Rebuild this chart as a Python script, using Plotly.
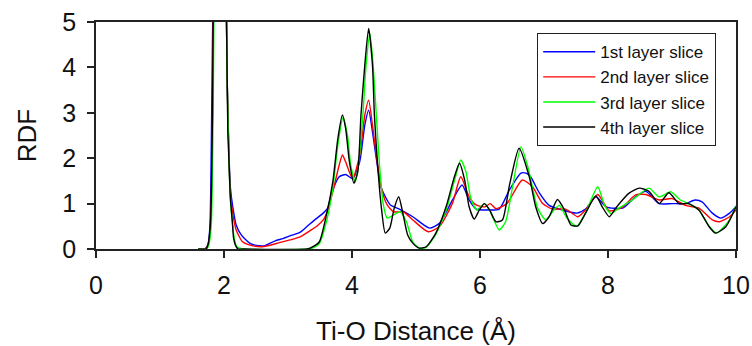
import plotly.graph_objects as go

# ---- data ----
x_blue = [1.6, 1.7, 1.75, 1.78, 1.81, 1.85, 1.93, 2.03, 2.05, 2.08, 2.1, 2.14, 2.19, 2.27, 2.4, 2.55, 2.65, 2.8, 2.92, 3.05, 3.18, 3.3, 3.4, 3.55, 3.62, 3.7, 3.8, 3.9, 4.01, 4.12, 4.2, 4.26, 4.32, 4.38, 4.46, 4.6, 4.74, 4.95, 5.21, 5.37, 5.57, 5.72, 5.83, 5.94, 6.1, 6.3, 6.46, 6.64, 6.72, 6.79, 6.93, 7.08, 7.24, 7.51, 7.65, 7.81, 7.97, 8.23, 8.43, 8.59, 8.8, 9.0, 9.21, 9.36, 9.47, 9.63, 9.76, 9.9, 10.0]
y_blue = [0.0, 0.0, 0.1, 0.5, 3.3, 8.0, 12.0, 6.0, 3.7, 2.0, 1.35, 0.9, 0.53, 0.31, 0.13, 0.07, 0.08, 0.18, 0.23, 0.3, 0.36, 0.5, 0.62, 0.79, 0.9, 1.3, 1.59, 1.64, 1.55, 1.92, 2.73, 3.06, 2.58, 1.99, 1.34, 0.97, 0.88, 0.71, 0.46, 0.57, 1.08, 1.41, 1.08, 0.88, 0.86, 0.88, 1.3, 1.67, 1.67, 1.59, 1.23, 0.96, 0.88, 0.79, 0.88, 1.15, 0.93, 0.9, 1.15, 1.27, 1.0, 1.0, 1.0, 1.08, 1.04, 0.79, 0.68, 0.79, 0.93]

x_red = [1.6, 1.7, 1.75, 1.79, 1.82, 1.85, 1.93, 2.03, 2.05, 2.08, 2.1, 2.14, 2.19, 2.29, 2.45, 2.6, 2.82, 3.03, 3.18, 3.34, 3.45, 3.55, 3.62, 3.7, 3.8, 3.85, 3.9, 4.01, 4.12, 4.2, 4.26, 4.32, 4.38, 4.46, 4.55, 4.65, 4.8, 4.95, 5.19, 5.37, 5.57, 5.7, 5.83, 5.94, 6.08, 6.16, 6.25, 6.42, 6.66, 6.82, 6.98, 7.13, 7.34, 7.53, 7.65, 7.84, 8.02, 8.23, 8.43, 8.59, 8.8, 9.0, 9.21, 9.42, 9.63, 9.74, 9.9, 10.0]
y_red = [0.0, 0.0, 0.08, 0.5, 3.0, 8.0, 12.0, 6.0, 3.7, 1.9, 1.2, 0.75, 0.42, 0.16, 0.07, 0.05, 0.12, 0.2, 0.26, 0.4, 0.5, 0.64, 0.85, 1.26, 1.85, 2.07, 1.92, 1.55, 2.07, 2.95, 3.28, 2.73, 2.07, 1.34, 0.97, 0.82, 0.82, 0.64, 0.38, 0.5, 1.01, 1.59, 1.15, 0.97, 0.93, 1.0, 0.89, 1.0, 1.52, 1.37, 1.0, 0.88, 0.88, 0.71, 0.86, 1.2, 0.84, 0.93, 1.19, 1.2, 1.08, 1.11, 0.96, 0.9, 0.64, 0.6, 0.71, 0.86]

x_green = [1.6, 1.72, 1.76, 1.8, 1.83, 1.86, 1.93, 2.03, 2.05, 2.08, 2.1, 2.13, 2.16, 2.2, 2.3, 3.3, 3.4, 3.49, 3.6, 3.7, 3.78, 3.86, 3.93, 3.98, 4.05, 4.1, 4.17, 4.22, 4.28, 4.33, 4.38, 4.43, 4.49, 4.55, 4.65, 4.75, 4.85, 4.95, 5.05, 5.15, 5.3, 5.47, 5.6, 5.7, 5.78, 5.86, 5.95, 6.07, 6.15, 6.3, 6.4, 6.5, 6.64, 6.75, 6.9, 7.03, 7.15, 7.24, 7.35, 7.51, 7.65, 7.84, 7.95, 8.05, 8.17, 8.38, 8.64, 8.8, 8.98, 9.13, 9.26, 9.42, 9.58, 9.7, 9.9, 10.0]
y_green = [0.0, 0.0, 0.08, 0.5, 2.9, 8.0, 12.0, 6.0, 3.7, 1.85, 1.1, 0.6, 0.24, 0.05, 0.0, 0.0, 0.03, 0.12, 0.6, 1.33, 2.3, 2.9, 2.5, 1.85, 1.48, 1.85, 2.95, 4.05, 4.75, 4.05, 2.95, 1.85, 0.97, 0.68, 0.75, 0.82, 0.6, 0.15, 0.02, 0.03, 0.3, 0.85, 1.5, 1.96, 1.7, 1.1, 0.86, 1.0, 0.85, 0.42, 0.6, 1.3, 2.25, 1.8, 0.9, 0.64, 0.85, 0.96, 0.7, 0.5, 0.8, 1.37, 0.95, 0.78, 0.9, 1.08, 1.34, 1.15, 1.26, 1.08, 1.0, 0.86, 0.5, 0.35, 0.64, 0.96]

x_black = [1.6, 1.72, 1.75, 1.79, 1.82, 1.85, 1.93, 2.03, 2.05, 2.06, 2.08, 2.1, 2.13, 2.15, 2.18, 2.22, 2.3, 3.3, 3.39, 3.49, 3.6, 3.7, 3.78, 3.85, 3.9, 3.96, 4.03, 4.09, 4.14, 4.2, 4.26, 4.32, 4.35, 4.4, 4.46, 4.52, 4.59, 4.66, 4.73, 4.79, 4.87, 4.95, 5.05, 5.16, 5.31, 5.47, 5.6, 5.68, 5.76, 5.83, 5.91, 5.99, 6.07, 6.15, 6.25, 6.35, 6.46, 6.61, 6.77, 6.87, 6.98, 7.08, 7.21, 7.32, 7.42, 7.53, 7.65, 7.81, 7.91, 8.02, 8.12, 8.33, 8.49, 8.64, 8.8, 8.95, 9.11, 9.26, 9.42, 9.58, 9.68, 9.84, 10.0]
y_black = [0.0, 0.0, 0.09, 0.6, 2.95, 8.0, 12.0, 6.0, 3.7, 2.6, 1.85, 1.12, 0.6, 0.24, 0.08, 0.0, 0.0, 0.0, 0.05, 0.16, 0.75, 1.48, 2.44, 2.95, 2.66, 1.92, 1.45, 1.7, 2.95, 4.05, 4.86, 4.05, 2.95, 1.85, 0.9, 0.35, 0.46, 0.9, 1.15, 0.82, 0.31, 0.13, 0.02, 0.05, 0.35, 0.93, 1.59, 1.89, 1.52, 0.93, 0.66, 0.86, 1.0, 0.86, 0.6, 0.64, 1.4, 2.22, 1.59, 0.93, 0.56, 0.71, 1.09, 0.86, 0.53, 0.51, 0.79, 1.17, 0.93, 0.71, 0.9, 1.23, 1.34, 1.27, 1.0, 1.24, 1.0, 1.0, 0.86, 0.49, 0.35, 0.49, 0.93]

series_names = ["1st layer slice", "2nd layer slice", "3rd layer slice", "4th layer slice"]
series_colors = ["#0000ff", "#ff0000", "#00ff00", "#000000"]

x_ticks = [0, 2, 4, 6, 8, 10]
y_ticks = [0, 1, 2, 3, 4, 5]

fig = go.Figure()
for xs, ys, name, col in zip([x_blue, x_red, x_green, x_black],
                             [y_blue, y_red, y_green, y_black],
                             series_names, series_colors):
    fig.add_trace(go.Scatter(x=xs, y=ys, mode="lines", name=name,
                             line=dict(color=col, width=1.4, shape="spline", smoothing=0.6)))

font_family = "Liberation Sans, Arial, sans-serif"
txt = "#111111"
fig.update_layout(
    width=752, height=346,
    margin=dict(l=96, r=16, t=22, b=97),
    paper_bgcolor="white", plot_bgcolor="white",
    font=dict(family=font_family, size=17, color=txt),
    showlegend=True,
    legend=dict(x=(537 - 96) / 640, y=1 - (33 - 22) / 227, xanchor="left", yanchor="top",
                bordercolor="#222222", borderwidth=1.2, bgcolor="white",
                font=dict(size=17, family=font_family, color=txt),
                itemwidth=52, tracegroupgap=0),
)
fig.update_xaxes(range=[0, 10], tickvals=x_ticks, ticks="outside", ticklen=7,
                 tickwidth=1.5, tickcolor="#222222", showline=True, linecolor="#222222",
                 linewidth=1.5, mirror=True, showgrid=False, zeroline=False,
                 automargin=False, ticklabelstandoff=6, ticklabeloverflow="allow",
                 tickfont=dict(size=25),
                 title=dict(text="Ti-O Distance (Å)", font=dict(size=26), standoff=25))
fig.update_yaxes(range=[0, 5], tickvals=y_ticks, ticks="outside", ticklen=7,
                 tickwidth=1.5, tickcolor="#222222", showline=True, linecolor="#222222",
                 linewidth=1.5, mirror=True, showgrid=False, zeroline=False,
                 automargin=False, ticklabelstandoff=6, ticklabeloverflow="allow",
                 tickfont=dict(size=25),
                 title=dict(text="RDF", font=dict(size=26), standoff=18))

# remove the default page margin so the 752x346 figure fills the window exactly
fig.write_html("out.html", config={"displayModeBar": False},
               post_script="document.body.style.margin='0';document.body.style.overflow='hidden';")
